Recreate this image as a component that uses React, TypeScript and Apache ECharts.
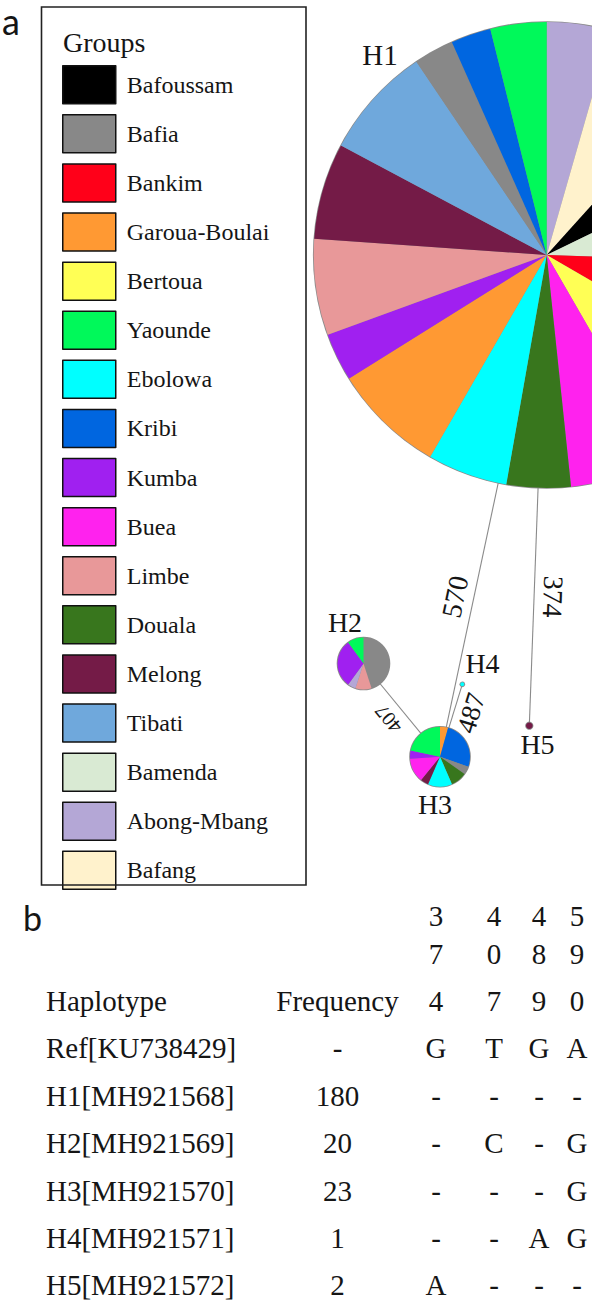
import React, { useEffect, useRef } from "react";
import * as echarts from "echarts";

// ---------- DATA ----------
const groupNames = [
  "Bafoussam", "Bafia", "Bankim", "Garoua-Boulai", "Bertoua", "Yaounde", "Ebolowa",
  "Kribi", "Kumba", "Buea", "Limbe", "Douala", "Melong", "Tibati", "Bamenda",
  "Abong-Mbang", "Bafang",
];
const groupColors = [
  "#000000", "#888888", "#ff0019", "#ff9933", "#ffff55", "#00f95a", "#00ffff",
  "#0066e0", "#a020f0", "#ff22ee", "#e89899", "#38761d", "#741b47", "#6fa8dc", "#d9ead3",
  "#b4a7d6", "#fff2cc",
];

const haplotypeIds = ["H1", "H2", "H3", "H4", "H5"];

const h1Groups = ["Abong-Mbang", "Bafang", "Bafoussam", "Bamenda", "Bankim", "Bertoua", "Buea", "Douala", "Ebolowa", "Garoua-Boulai", "Kumba", "Limbe", "Melong", "Tibati", "Bafia", "Kribi", "Yaounde"];
const h1Counts = [8, 13, 11, 14, 14, 15, 12, 8, 10, 14, 6, 12, 12, 14, 5, 5, 7];

const h2Groups = ["Bafia", "Limbe", "Abong-Mbang", "Kumba", "Yaounde"];
const h2Counts = [9, 2, 1, 6, 2];

const h3Groups = ["Garoua-Boulai", "Kribi", "Bafia", "Douala", "Ebolowa", "Melong", "Buea", "Kumba", "Yaounde"];
const h3Counts = [1, 6, 1, 2, 3, 1, 3, 1, 5];

const h4Groups = ["Ebolowa"];
const h4Counts = [1];

const h5Groups = ["Melong"];
const h5Counts = [2];

const edgeFrom = ["H1", "H1", "H2", "H3"];
const edgeTo = ["H3", "H5", "H3", "H4"];
const edgeLabels = ["570", "374", "407", "487"];

const tableNames = ["Ref[KU738429]", "H1[MH921568]", "H2[MH921569]", "H3[MH921570]", "H4[MH921571]", "H5[MH921572]"];
const tableFrequencies = ["-", "180", "20", "23", "1", "2"];
const sitePositions = ["374", "407", "489", "590"];
const siteRows = [
  ["G", "T", "G", "A"],
  ["-", "-", "-", "-"],
  ["-", "C", "-", "G"],
  ["-", "-", "-", "G"],
  ["-", "-", "A", "G"],
  ["A", "-", "-", "-"],
];

// ---------- LAYOUT ----------
const W = 592;
const H = 1300;
const nodePos = [[546.7, 255], [363.5, 663.5], [440, 756.7], [462.3, 684.3], [529.3, 725.7]];
const nodeRadius = [233, 26, 30, 2, 3.3];
const nodeLabelPos = [[380, 55], [345, 622.5], [435, 804], [482.5, 663.7], [537.5, 744.5]];
const nodeLabelSize = [29, 28, 28, 28, 28];
const edgeLabelPos = [[455, 596.7], [553, 596.7], [388.3, 719], [471, 713]];
const edgeLabelRot = [1.361, -1.606, 2.258, 1.272];
const edgeLabelSize = [28, 28, 20, 27];

const SERIF = "Liberation Serif";
const SANS = "Lato";
const INK = "#151515";

const colorOf = (name: string) => groupColors[groupNames.indexOf(name)];

function txt(text: string, x: number, y: number, size: number, align = "center", rotation = 0, family = SERIF) {
  return {
    type: "text",
    x,
    y,
    rotation,
    z: 20,
    silent: true,
    style: {
      text,
      fill: INK,
      fontSize: size,
      fontFamily: family,
      textAlign: align,
      align,
      textVerticalAlign: "middle",
      verticalAlign: "middle",
    },
  };
}

function buildOption() {
  const pieSets = [
    [h1Groups, h1Counts],
    [h2Groups, h2Counts],
    [h3Groups, h3Counts],
    [h4Groups, h4Counts],
    [h5Groups, h5Counts],
  ] as [string[], number[]][];

  const pies = pieSets.map(([names, counts], i) => ({
    type: "pie",
    name: haplotypeIds[i],
    z: 3,
    silent: true,
    center: nodePos[i],
    radius: nodeRadius[i],
    startAngle: 90,
    clockwise: true,
    avoidLabelOverlap: false,
    label: { show: false },
    labelLine: { show: false },
    emphasis: { disabled: true, scale: false },
    itemStyle: { borderWidth: 0 },
    data: names.map((n, k) => ({ name: n, value: counts[k], itemStyle: { color: colorOf(n), borderWidth: 0 } })),
  }));

  const graph = {
    type: "graph",
    coordinateSystem: "cartesian2d",
    z: 1,
    silent: true,
    symbol: "circle",
    edgeSymbol: ["none", "none"],
    label: { show: false },
    emphasis: { disabled: true },
    lineStyle: { color: "#8a8a8a", width: 1.1, opacity: 1, curveness: 0 },
    itemStyle: { color: "#8a8a8a" },
    data: haplotypeIds.map((id, i) => ({
      name: id,
      value: nodePos[i],
      symbolSize: nodeRadius[i] * 2 + 1.6,
    })),
    links: edgeFrom.map((s, i) => ({ source: s, target: edgeTo[i] })),
  };

  const graphics: any[] = [];
  // panel letters
  graphics.push(txt("a", 2, 21, 36, "left", 0, SANS));
  graphics.push(txt("b", 23, 917, 34, "left", 0, SANS));
  // legend box and title
  graphics.push({
    type: "rect",
    z: 5,
    silent: true,
    shape: { x: 41.5, y: 7, width: 264.5, height: 878 },
    style: { fill: "none", stroke: "#222", lineWidth: 1.6 },
  });
  graphics.push(txt("Groups", 63, 42, 28, "left"));
  // node labels
  haplotypeIds.forEach((id, i) => {
    graphics.push(txt(id, nodeLabelPos[i][0], nodeLabelPos[i][1], nodeLabelSize[i]));
  });
  // edge labels
  edgeLabels.forEach((l, i) => {
    graphics.push(txt(l, edgeLabelPos[i][0], edgeLabelPos[i][1], edgeLabelSize[i], "center", edgeLabelRot[i]));
  });
  // table
  const TS = 29;
  const nameX = 46;
  const freqX = 337.5;
  const colX = [436, 494, 539, 577];
  const headerY = [916, 954, 1001];
  const rowY = [1048, 1096, 1143, 1191, 1238, 1285];
  sitePositions.forEach((p, c) => {
    p.split("").forEach((d, r) => graphics.push(txt(d, colX[c], headerY[r], TS)));
  });
  graphics.push(txt("Haplotype", nameX, headerY[2], TS, "left"));
  graphics.push(txt("Frequency", freqX, headerY[2], TS));
  tableNames.forEach((n, r) => {
    graphics.push(txt(n, nameX, rowY[r], TS, "left"));
    graphics.push(txt(tableFrequencies[r], freqX, rowY[r], TS));
    siteRows[r].forEach((b, c) => graphics.push(txt(b, colX[c], rowY[r], TS)));
  });

  return {
    animation: false,
    backgroundColor: "#ffffff",
    grid: { left: 0, right: 0, top: 0, bottom: 0 },
    xAxis: { type: "value", min: 0, max: W, show: false },
    yAxis: { type: "value", min: 0, max: H, inverse: true, show: false },
    legend: {
      show: true,
      orient: "vertical",
      left: 62,
      top: 65,
      padding: 0,
      itemWidth: 53,
      itemHeight: 38,
      itemGap: 9.6,
      icon: "rect",
      selectedMode: false,
      data: groupNames,
      itemStyle: { borderColor: "#111", borderWidth: 1.5 },
      textStyle: { fontFamily: SERIF, fontSize: 24, color: INK, padding: [0, 0, 0, 6] },
    },
    series: [graph, ...pies],
    graphic: { elements: graphics },
  };
}

export default function App() {
  const ref = useRef<HTMLDivElement>(null);
  useEffect(() => {
    if (!ref.current) return;
    const chart = echarts.init(ref.current, null, { renderer: "svg" });
    chart.setOption(buildOption() as any);
    return () => chart.dispose();
  }, []);
  return (
    <div
      ref={ref}
      style={{ position: "absolute", left: 0, top: 0, width: W, height: H, background: "#fff" }}
    />
  );
}
